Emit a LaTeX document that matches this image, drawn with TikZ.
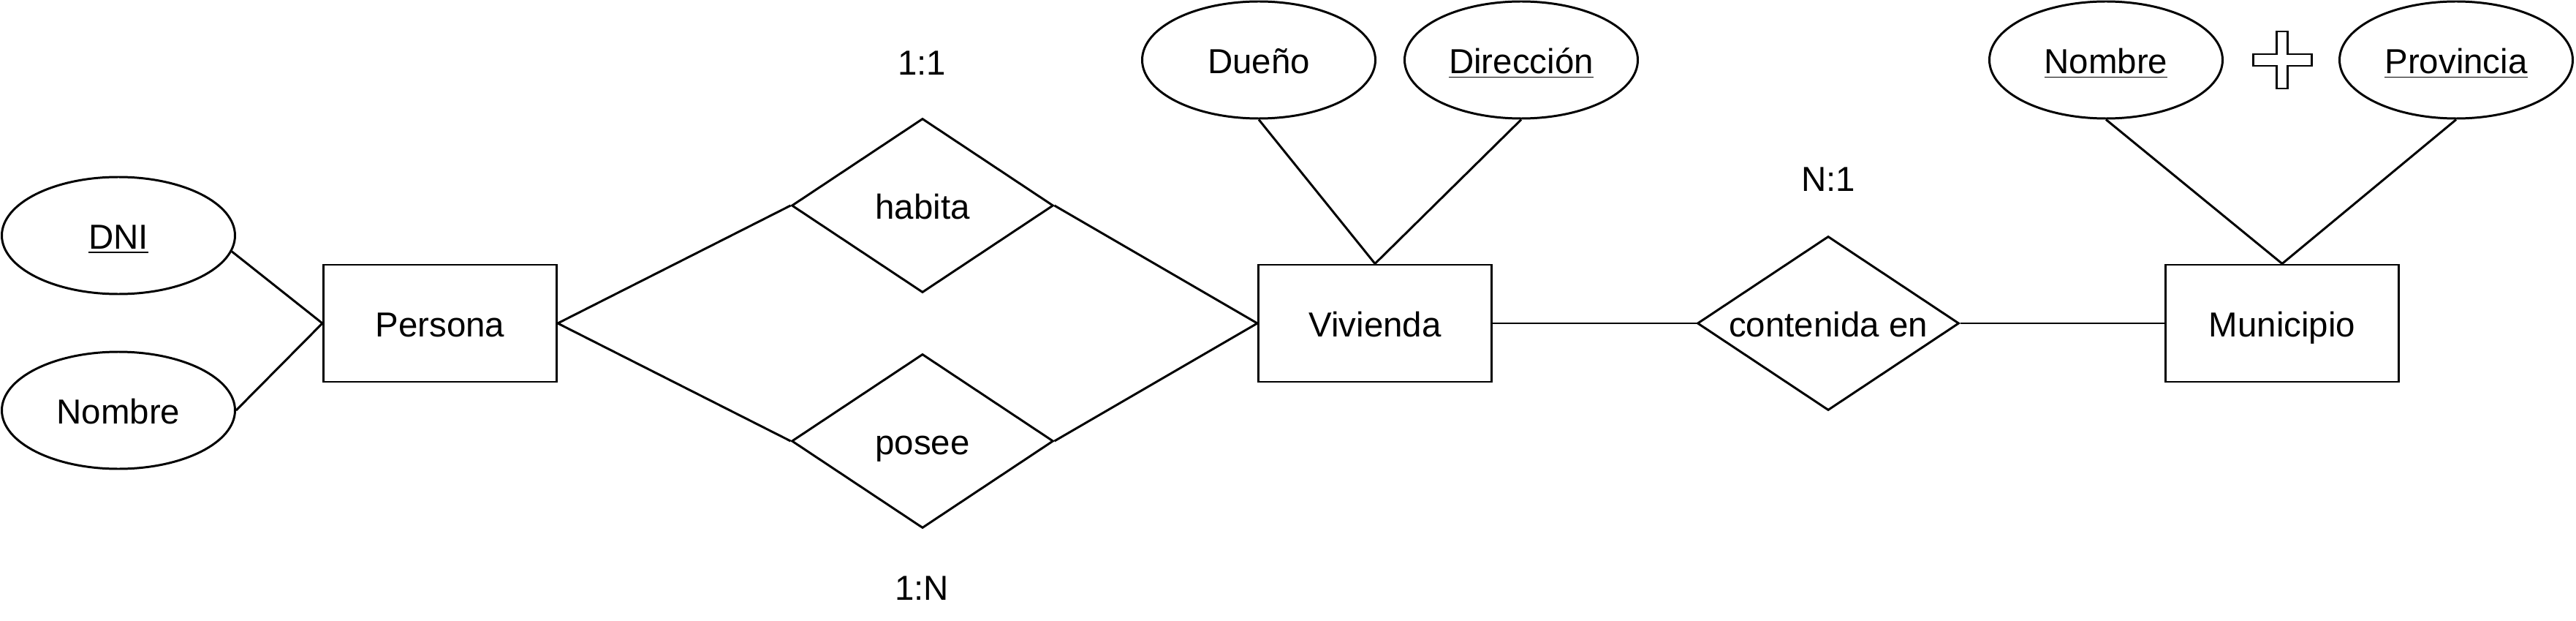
\documentclass[tikz,border=0pt]{standalone}
\usepackage{fontspec}
\setmainfont{Liberation Sans}
\usepackage{tikz}
\usetikzlibrary{positioning,shapes.geometric}

\begin{document}
\begin{tikzpicture}[
    line width=0.85pt,
    every node/.style={font=\fontsize{13.5}{16}\selectfont, text height=10.3pt, text depth=0pt},
    entity/.style={draw, rectangle, minimum width=3.19cm, minimum height=1.6cm, inner sep=0pt},
    attrib/.style={draw, ellipse, minimum width=3.19cm, minimum height=1.6cm, inner sep=0pt},
    relation/.style={draw, diamond, aspect=1.5, minimum width=3.58cm, minimum height=2.38cm, inner sep=0pt},
    card/.style={inner sep=0pt}
  ]
  \useasboundingbox (0,0) rectangle (35.24,8.48);

  % entidades
  \node [entity] (persona) at (6.02,4.06) {Persona};
  \node [entity] (vivienda) at (18.81,4.06) {Vivienda};
  \node [entity] (municipio) at (31.22,4.06) {Municipio};

  % relaciones
  \node [relation] (habita) at (12.62,5.67) {habita};
  \node [relation, below=0.81cm of habita] (posee) {posee};
  \node [relation] (contenida) at (25.01,4.06) {contenida en};

  % atributos
  \node [attrib] (dni) at (1.62,5.26) {\underline{DNI}};
  \node [attrib] (nombreP) at (1.62,2.87) {Nombre};
  \node [attrib] (dueno) at (17.22,7.66) {Dueño};
  \node [attrib] (direccion) at (20.81,7.66) {\underline{Dirección}};
  \node [attrib] (nombreM) at (28.81,7.66) {\underline{Nombre}};
  \node [attrib] (provincia) at (33.60,7.66) {\underline{Provincia}};

  % cardinalidades
  \node [card] (cardHabita) at (12.61,7.64) {1:1};
  \node [card] (cardPosee) at (12.61,0.46) {1:N};
  \node [card] (cardContenida) at (25.01,6.05) {N:1};

  % clave compuesta
  \coordinate (plus) at (31.22,7.66);
  \draw [shift={(plus)}] (-0.075,0.39) -- (0.075,0.39) -- (0.075,0.08) -- (0.40,0.08)
    -- (0.40,-0.08) -- (0.075,-0.08) -- (0.075,-0.39) -- (-0.075,-0.39)
    -- (-0.075,-0.08) -- (-0.40,-0.08) -- (-0.40,0.08) -- (-0.075,0.08) -- cycle;

  \draw (dni.-8) -- (persona.west);
  \draw (nombreP.east) -- (persona.west);
  \draw (persona.east) -- (habita.west);
  \draw (persona.east) -- (posee.west);
  \draw (habita.east) -- (vivienda.west);
  \draw (posee.east) -- (vivienda.west);
  \draw (vivienda.east) -- (contenida.west);
  \draw (contenida.east) -- (municipio.west);
  \draw (dueno.south) -- (vivienda.north);
  \draw (direccion.south) -- (vivienda.north);
  \draw (nombreM.south) -- (municipio.north);
  \draw (provincia.south) -- (municipio.north);
\end{tikzpicture}
\end{document}
